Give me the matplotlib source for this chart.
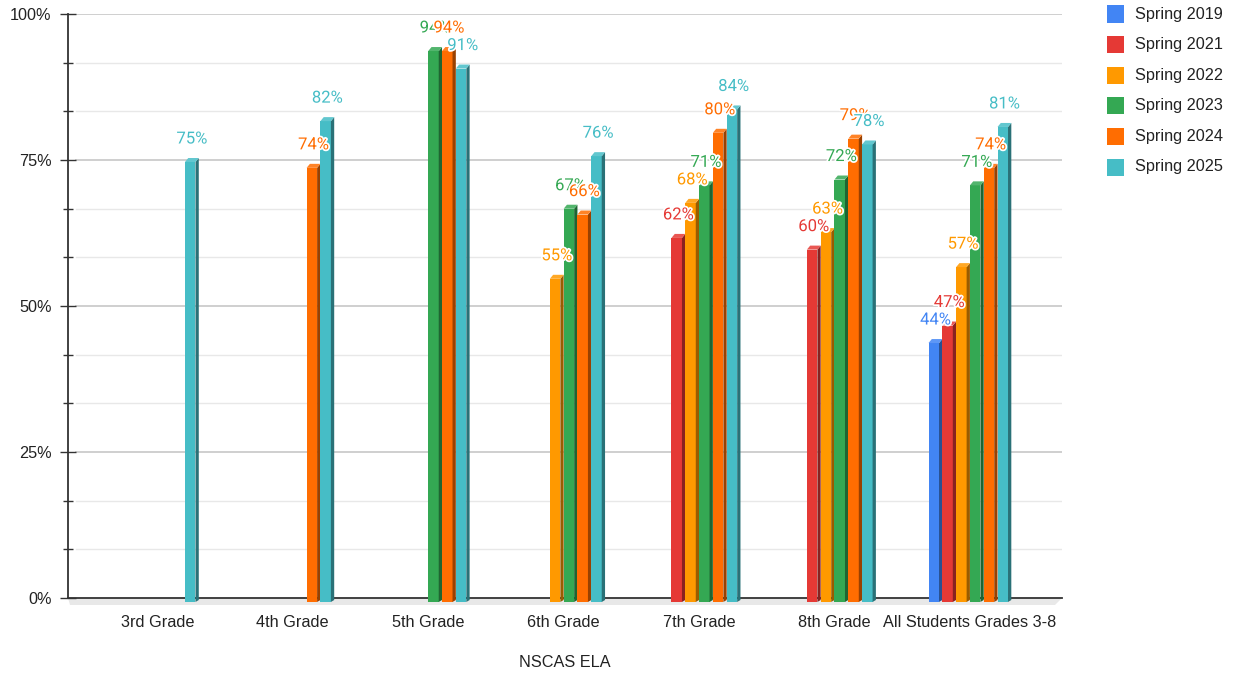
import matplotlib
matplotlib.use("Agg")
import matplotlib.pyplot as plt
import matplotlib.colors as mcolors
from matplotlib.patches import Polygon, Rectangle
import matplotlib.patheffects as pe
import numpy as np

categories = ["3rd Grade", "4th Grade", "5th Grade", "6th Grade", "7th Grade",
              "8th Grade", "All Students Grades 3-8"]
series_names = ["Spring 2019", "Spring 2021", "Spring 2022", "Spring 2023",
                "Spring 2024", "Spring 2025"]
spring_2019 = [None, None, None, None, None, None, 44]
spring_2021 = [None, None, None, None, 62, 60, 47]
spring_2022 = [None, None, None, 55, 68, 63, 57]
spring_2023 = [None, None, 94, 67, 71, 72, 71]
spring_2024 = [None, 74, 94, 66, 80, 79, 74]
spring_2025 = [75, 82, 91, 76, 84, 78, 81]
series_values = [spring_2019, spring_2021, spring_2022, spring_2023,
                 spring_2024, spring_2025]
colors = ["#4285F4", "#E53935", "#FF9900", "#34A853", "#FF6D01", "#46BDC6"]
y_ticks = [0, 25, 50, 75, 100]
y_tick_labels = ["0%", "25%", "50%", "75%", "100%"]
x_title = "NSCAS ELA"

FS = 11.7
W, H = 1236, 675
fig = plt.figure(figsize=(W / 100, H / 100), dpi=100)
ax_l, ax_r, ax_t, ax_b = 68, 1062, 14, 598
ax = fig.add_axes([ax_l / W, 1 - ax_b / H, (ax_r - ax_l) / W, (ax_b - ax_t) / H])

xmin, xmax = -0.66, 6.68
ax.set_xlim(xmin, xmax)
ax.set_ylim(0, 100)
px_x = (ax_r - ax_l) / (xmax - xmin)
px_y = (ax_b - ax_t) / 100.0

slot = 13.8 / px_x
w = 10.5 / px_x
dx = 3.3 / px_x
dy = 4.0 / px_y


def shade(c, f):
    r, g, b = mcolors.to_rgb(c)
    return (r * f, g * f, b * f)


def tint(c, f):
    r, g, b = mcolors.to_rgb(c)
    return (r + (1 - r) * f, g + (1 - g) * f, b + (1 - b) * f)


# gridlines
for k in range(13):
    yv = k * 25 / 3
    if k % 3 == 0:
        if yv == 0:
            continue
        ax.axhline(yv, xmin=8 / (ax_r - ax_l), color="#cccccc", lw=1.3, zorder=1)
    else:
        ax.axhline(yv, xmin=8 / (ax_r - ax_l), color="#e8e8e8", lw=1.0, zorder=1)

# floor
fl = Polygon([(0, 0), (1, 0), (1 - 7 / (ax_r - ax_l), -7 / (ax_b - ax_t)),
              (2 / (ax_r - ax_l), -7 / (ax_b - ax_t))],
             closed=True, transform=ax.transAxes, facecolor="#e8e8e8",
             edgecolor="none", clip_on=False, zorder=1.5)
ax.add_patch(fl)
ax.axhline(0, color="#333333", lw=1.3, zorder=2, clip_on=False)

# bars
for i in range(len(categories)):
    for j, vals in enumerate(series_values):
        v = vals[i]
        if v is None:
            continue
        c = colors[j]
        xc = i + (j - 2.5) * slot
        x0 = xc - (w + dx) / 2
        z = 3 + j * 0.1
        front = Polygon([(x0, -dy), (x0 + w, -dy), (x0 + w, v - dy / 2), (x0, v - dy / 2)],
                        closed=True, facecolor=c, edgecolor="none", clip_on=False, zorder=z)
        side = Polygon([(x0 + w, -dy), (x0 + w + dx, -dy / 2), (x0 + w + dx, v + dy / 2),
                        (x0 + w, v - dy / 2)], closed=True, facecolor=shade(c, 0.6),
                       edgecolor="none", clip_on=False, zorder=z)
        top = Polygon([(x0, v - dy / 2), (x0 + w, v - dy / 2), (x0 + w + dx, v + dy / 2),
                       (x0 + dx, v + dy / 2)], closed=True, facecolor=tint(c, 0.15),
                      edgecolor="none", clip_on=False, zorder=z)
        for p in (front, side, top):
            ax.add_patch(p)

# data labels
for i in range(len(categories)):
    for j, vals in enumerate(series_values):
        v = vals[i]
        if v is None:
            continue
        xc = i + (j - 2.5) * slot
        ax.text(xc, v + 21 / px_y, f"{v}%", ha="center", va="center",
                fontsize=12, family="Roboto", color=colors[j], zorder=10 + j,
                path_effects=[pe.withStroke(linewidth=2.5, foreground="white")])

# axes styling
for s in ["top", "right", "bottom"]:
    ax.spines[s].set_visible(False)
ax.spines["left"].set_color("#333333")
ax.spines["left"].set_linewidth(1.3)
ax.spines["left"].set_zorder(2)

ax.set_yticks(y_ticks)
ax.set_yticklabels(y_tick_labels)
ax.set_yticks([k * 25 / 3 for k in range(13) if k % 3 != 0], minor=True)
ax.tick_params(axis="y", which="major", direction="inout", length=11.5, width=1.0,
               color="#333333", pad=6, labelsize=FS, labelcolor="#222222")
ax.tick_params(axis="y", which="minor", direction="inout", length=6.5, width=1.0,
               color="#333333")
for lbl in ax.get_yticklabels():
    lbl.set_family("Liberation Sans")

ax.set_xticks(range(len(categories)))
ax.set_xticklabels(categories, family="Liberation Sans")
ax.tick_params(axis="x", length=0, pad=12.5, labelsize=FS, labelcolor="#222222")
ax.set_xlabel(x_title, family="Liberation Sans", fontsize=FS, color="#222222", labelpad=18)

# legend
for j, name in enumerate(series_names):
    yc = 14 + j * 30.6
    fig.patches.append(Rectangle(((1107) / W, 1 - (yc + 8.5) / H), 17 / W, 17 / H,
                                 transform=fig.transFigure, facecolor=colors[j],
                                 edgecolor="none"))
    fig.text(1135 / W, 1 - yc / H, name, ha="left", va="center", fontsize=FS,
             family="Liberation Sans", color="#222222")

fig.savefig("out.png", dpi=100, facecolor="white")
